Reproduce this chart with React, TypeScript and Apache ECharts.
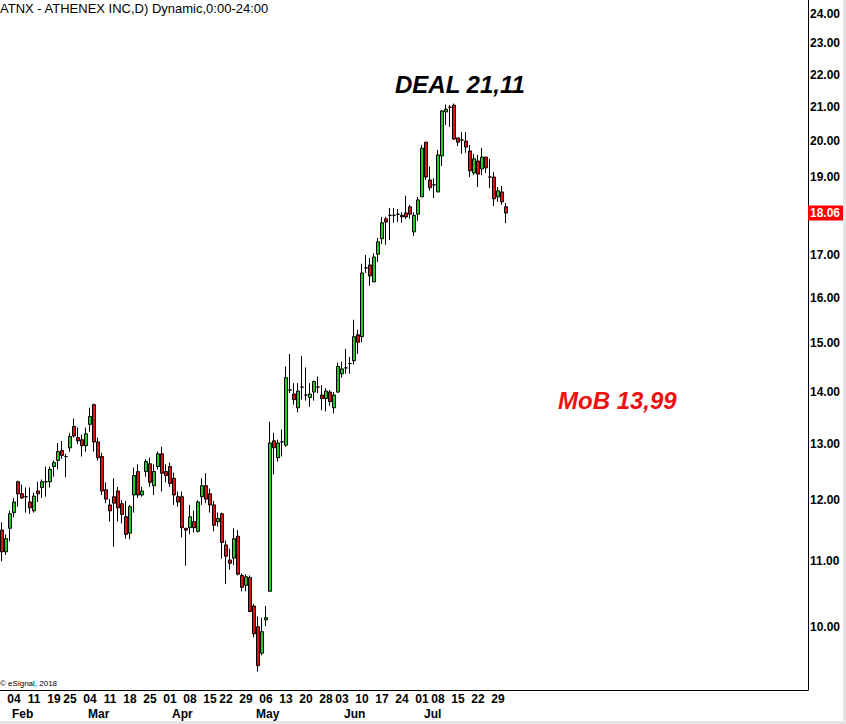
import { useEffect, useRef } from 'react';
import * as echarts from 'echarts';

// ---- calendar / tick labels ----
const FIRST_DAY = '2019-01-30';
const SLOT_COUNT = 202;
const HOLIDAYS = ['2019-02-18', '2019-04-19', '2019-05-27', '2019-07-04', '2019-09-02', '2019-11-28'];
const weekStarts = [
  '2019-02-04', '2019-02-11', '2019-02-19', '2019-02-25', '2019-03-04', '2019-03-11', '2019-03-18',
  '2019-03-25', '2019-04-01', '2019-04-08', '2019-04-15', '2019-04-22', '2019-04-29', '2019-05-06',
  '2019-05-13', '2019-05-20', '2019-05-28', '2019-06-03', '2019-06-10', '2019-06-17', '2019-06-24',
  '2019-07-01', '2019-07-08', '2019-07-15', '2019-07-22', '2019-07-29',
];
const monthStarts = ['2019-02-01', '2019-03-01', '2019-04-01', '2019-05-01', '2019-06-03', '2019-07-01'];
const monthNames = ['Feb', 'Mar', 'Apr', 'May', 'Jun', 'Jul'];
const priceTicks = [10, 11, 12, 13, 14, 15, 16, 17, 19, 20, 21, 22, 23, 24];
const lastPrice = 18.06;
const yMinPrice = 9.147;
const yMaxPrice = 24.47;

// ---- OHLC ----
const opens = [
  11.49, 11.14, 11.52, 11.78, 12.31, 12.10, 12.05, 11.96, 11.81, 12.15, 12.21, 12.31, 12.31, 12.58, 12.69, 12.87,
  12.76, 12.92, 13.32, 13.11, 13.07, 12.96, 13.36, 13.74, 13.03, 12.76, 12.17, 11.91, 12.05, 12.15, 11.93, 11.71,
  11.44, 12.08, 12.49, 12.08, 12.49, 12.63, 12.24, 12.58, 12.81, 12.49, 12.58, 12.37, 12.05, 12.05, 11.52, 11.53,
  11.63, 11.47, 12.05, 12.24, 12.10, 11.91, 11.63, 11.76, 11.25, 11.01, 11.04, 11.39, 10.77, 10.62, 10.74, 10.31,
  10.01, 9.64, 10.11, 10.53, 13.05, 12.74, 13.03, 12.97, 14.03, 13.95, 13.68, 14.09, 13.93, 13.88, 13.99, 14.09,
  13.93, 13.86, 13.99, 13.68, 13.99, 14.36, 14.48, 14.57, 14.63, 15.18, 15.14, 16.70, 16.77, 16.37, 17.03, 17.41,
  17.91, 18.00, 18.00, 18.03, 18.00, 18.06, 18.22, 17.58, 18.03, 18.48, 19.98, 18.93, 18.80, 18.61, 19.59, 20.86,
  21.00, 21.06, 20.10, 20.04, 20.01, 19.73, 19.12, 19.45, 19.23, 19.56, 19.01, 19.01, 18.48, 18.61, 18.22,
];
const closes = [
  11.14, 11.35, 11.76, 11.96, 12.10, 12.03, 12.05, 11.86, 12.06, 12.10, 12.31, 12.31, 12.53, 12.65, 12.85, 12.78,
  12.76, 13.13, 13.14, 13.05, 12.96, 13.18, 13.51, 13.03, 12.74, 12.15, 12.01, 11.81, 11.94, 11.86, 11.75, 11.42,
  11.88, 12.42, 12.08, 12.15, 12.67, 12.30, 12.49, 12.81, 12.46, 12.42, 12.28, 12.08, 11.96, 11.53, 11.49, 11.71,
  11.53, 11.96, 12.24, 12.01, 11.91, 11.57, 11.68, 11.29, 11.07, 10.96, 11.35, 10.79, 10.59, 10.75, 10.23, 9.91,
  9.47, 9.94, 10.14, 13.01, 12.92, 13.01, 13.03, 14.28, 14.03, 13.84, 14.01, 14.09, 13.93, 13.95, 14.20, 14.09,
  13.86, 14.01, 13.80, 13.93, 14.51, 14.46, 14.48, 14.57, 15.14, 15.02, 16.58, 16.70, 16.51, 16.96, 17.33, 17.81,
  17.83, 18.00, 18.00, 18.03, 17.96, 17.96, 18.03, 18.00, 18.40, 19.81, 19.01, 18.72, 18.80, 19.62, 20.89, 20.94,
  21.00, 20.07, 19.98, 20.04, 19.84, 19.18, 19.51, 19.09, 19.56, 19.26, 19.01, 18.43, 18.64, 18.35, 18.06,
];
const lows = [
  10.99, 11.09, 11.31, 11.70, 11.88, 12.01, 11.78, 11.76, 11.78, 11.96, 12.03, 12.05, 12.21, 12.40, 12.53, 12.72,
  12.39, 12.85, 13.11, 12.99, 12.76, 12.85, 13.22, 12.85, 12.69, 12.08, 11.94, 11.63, 11.22, 11.63, 11.60, 11.35,
  11.34, 11.78, 12.03, 12.05, 12.40, 12.22, 12.08, 12.53, 12.14, 12.30, 12.22, 11.91, 11.88, 11.37, 10.92, 11.42,
  11.45, 11.45, 11.91, 11.94, 11.78, 11.47, 11.55, 11.03, 10.64, 10.86, 10.93, 10.77, 10.53, 10.53, 10.22, 9.86,
  9.39, 9.61, 10.02, 10.53, 12.44, 12.67, 12.76, 12.94, 13.97, 13.74, 13.59, 13.84, 13.82, 13.70, 13.82, 13.97,
  13.63, 13.61, 13.72, 13.57, 13.97, 14.28, 14.36, 14.36, 14.55, 14.77, 15.02, 16.58, 16.28, 16.37, 16.84, 17.28,
  17.26, 17.38, 17.81, 17.83, 17.81, 17.91, 17.91, 17.48, 17.86, 18.48, 18.93, 18.64, 18.45, 18.61, 19.31, 20.48,
  20.42, 20.04, 19.87, 19.65, 19.68, 19.01, 19.06, 18.74, 19.06, 19.12, 18.72, 18.24, 18.35, 18.27, 17.80,
];
const highs = [
  11.62, 11.42, 11.81, 12.03, 12.33, 12.26, 12.21, 12.21, 12.12, 12.31, 12.35, 12.58, 12.58, 12.69, 13.01, 13.05,
  12.81, 13.20, 13.47, 13.30, 13.16, 13.30, 13.68, 13.76, 13.11, 12.83, 12.30, 12.01, 12.37, 12.22, 11.99, 11.98,
  11.91, 12.56, 12.62, 12.22, 12.71, 12.74, 12.62, 12.85, 12.94, 12.62, 12.65, 12.47, 12.14, 12.14, 11.52, 11.91,
  11.81, 11.99, 12.37, 12.46, 12.19, 11.98, 11.78, 11.78, 11.32, 11.19, 11.52, 11.49, 10.80, 10.79, 10.77, 10.34,
  10.16, 10.14, 10.31, 13.41, 13.20, 13.07, 13.26, 14.51, 14.77, 14.17, 14.17, 14.73, 14.49, 14.17, 14.22, 14.30,
  14.13, 14.07, 14.03, 13.99, 14.59, 14.61, 14.88, 14.71, 15.51, 15.29, 16.80, 17.01, 16.94, 17.05, 17.43, 17.96,
  17.96, 18.19, 18.19, 18.16, 18.08, 18.51, 18.27, 18.08, 18.48, 19.90, 19.98, 19.30, 18.98, 19.76, 20.92, 21.08,
  21.06, 21.11, 20.10, 20.27, 20.27, 19.90, 19.65, 19.62, 19.81, 19.56, 19.51, 19.15, 18.74, 18.77, 18.32,
];

const FONT = '"Liberation Sans", Arial, sans-serif';

function tradingDays(start: string, count: number, holidays: string[]): string[] {
  const out: string[] = [];
  const d = new Date(start + 'T00:00:00Z');
  while (out.length < count) {
    const dow = d.getUTCDay();
    const iso = d.toISOString().slice(0, 10);
    if (dow !== 0 && dow !== 6 && !holidays.includes(iso)) out.push(iso);
    d.setUTCDate(d.getUTCDate() + 1);
  }
  return out;
}

export default function App() {
  const ref = useRef<HTMLDivElement>(null);

  useEffect(() => {
    document.body.style.margin = '0';
    if (!ref.current) return;
    const chart = echarts.init(ref.current, undefined, { renderer: 'svg' });
    const days = tradingDays(FIRST_DAY, SLOT_COUNT, HOLIDAYS);
    const lastIdx = opens.length - 1;
    const candles = opens.map((o, i) => [
      Math.log(o),
      Math.log(closes[i]),
      Math.log(lows[i]),
      Math.log(highs[i]),
    ]);

    const labelBase = { fontFamily: FONT, fontWeight: 'bold' as const, fontSize: 12, color: '#000' };

    chart.setOption({
      animation: false,
      backgroundColor: '#fff',
      grid: { left: 0, right: 38, top: 0, bottom: 34, containLabel: false },
      xAxis: [
        {
          type: 'category',
          data: days,
          boundaryGap: true,
          axisLine: { show: true, lineStyle: { color: '#000', width: 1 } },
          axisTick: { show: false },
          splitLine: { show: false },
          axisLabel: {
            ...labelBase,
            margin: 3,
            interval: (idx: number, val: string) => idx <= lastIdx && weekStarts.includes(val),
            formatter: (val: string) => val.slice(8),
          },
        },
        {
          type: 'category',
          data: days,
          position: 'bottom',
          boundaryGap: true,
          axisLine: { show: false },
          axisTick: { show: false },
          splitLine: { show: false },
          axisLabel: {
            ...labelBase,
            margin: 18,
            align: 'left',
            padding: [0, 0, 0, 2],
            interval: (idx: number, val: string) => monthStarts.includes(val),
            formatter: (val: string) => monthNames[monthStarts.indexOf(val)] ?? '',
          },
        },
      ],
      yAxis: [
        {
          type: 'value',
          position: 'right',
          min: Math.log(yMinPrice),
          max: Math.log(yMaxPrice),
          scale: true,
          axisLine: { show: true, lineStyle: { color: '#000', width: 1 } },
          axisTick: { show: false },
          splitLine: { show: false },
          axisLabel: {
            ...labelBase,
            margin: 2,
            customValues: priceTicks.map((p) => Math.log(p)),
            formatter: (v: number) => Math.exp(v).toFixed(2),
          },
        },
        {
          type: 'value',
          position: 'right',
          min: Math.log(yMinPrice),
          max: Math.log(yMaxPrice),
          scale: true,
          axisLine: { show: false },
          axisTick: { show: false },
          splitLine: { show: false },
          axisLabel: {
            ...labelBase,
            color: '#fff',
            backgroundColor: '#ff0000',
            padding: [2, 3, 1, 2],
            margin: 0,
            customValues: [Math.log(lastPrice)],
            formatter: () => lastPrice.toFixed(2),
          },
        },
      ],
      series: [
        {
          type: 'candlestick',
          xAxisIndex: 0,
          yAxisIndex: 0,
          data: candles,
          barWidth: 3,
          itemStyle: {
            color: '#22cc22',
            color0: '#dd1111',
            borderColor: '#000',
            borderColor0: '#000',
            borderColorDoji: '#000',
            borderWidth: 1,
          },
        },
      ],
      graphic: [
        {
          type: 'rect',
          silent: true,
          shape: { x: 843, y: 0, width: 3, height: 724 },
          style: { fill: '#e4e4e4' },
        },
        {
          type: 'rect',
          silent: true,
          shape: { x: 0, y: 721, width: 846, height: 3 },
          style: { fill: '#e4e4e4' },
        },
        {
          type: 'text',
          silent: true,
          x: 0,
          y: 8,
          style: {
            text: 'ATNX - ATHENEX INC,D) Dynamic,0:00-24:00',
            fontFamily: FONT,
            fontSize: 13,
            fill: '#000',
            align: 'left',
            verticalAlign: 'middle',
          },
        },
        {
          type: 'text',
          silent: true,
          x: 395,
          y: 84,
          style: {
            text: 'DEAL 21,11',
            fontFamily: FONT,
            fontSize: 24,
            fontWeight: 'bold',
            fontStyle: 'italic',
            fill: '#000',
            align: 'left',
            verticalAlign: 'middle',
          },
        },
        {
          type: 'text',
          silent: true,
          x: 558,
          y: 400,
          style: {
            text: 'MoB 13,99',
            fontFamily: FONT,
            fontSize: 24,
            fontWeight: 'bold',
            fontStyle: 'italic',
            fill: '#ee1111',
            align: 'left',
            verticalAlign: 'middle',
          },
        },
        {
          type: 'text',
          silent: true,
          x: 0,
          y: 683,
          style: {
            text: '© eSignal, 2018',
            fontFamily: FONT,
            fontSize: 8,
            fill: '#000',
            align: 'left',
            verticalAlign: 'middle',
          },
        },
      ],
    });

    return () => chart.dispose();
  }, []);

  return <div ref={ref} style={{ width: 846, height: 724 }} />;
}
